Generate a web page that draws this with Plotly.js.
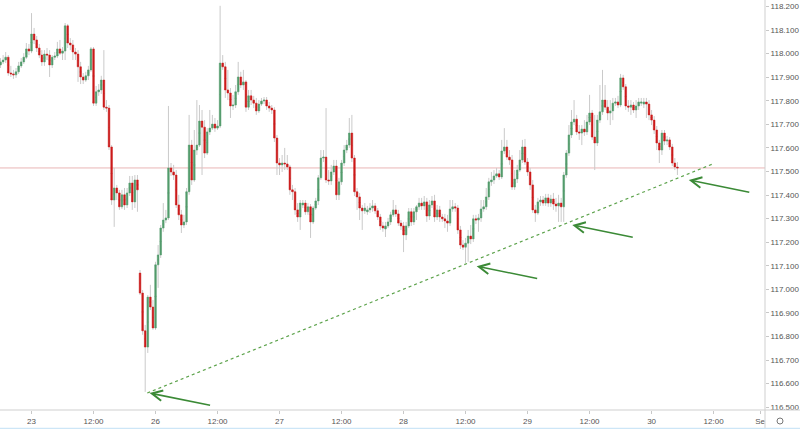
<!DOCTYPE html>
<html><head><meta charset="utf-8">
<script src="https://cdn.plot.ly/plotly-3.0.1.min.js"></script>
<style>html,body{margin:0;padding:0;background:#fff;} #chart{width:800px;height:429px;}</style>
</head><body><div id="chart"></div>
<script>
// 30-minute bars, 22 Aug 18:00 -> 30 Aug 05:00 (weekend gap removed)
const open = [
117.952,117.965,117.973,117.985,117.918,117.914,117.910,117.923,117.948,117.965,
117.985,118.020,118.011,118.083,118.058,118.024,117.994,117.965,117.998,117.994,
117.952,117.985,117.990,118.020,118.002,118.011,118.118,118.045,118.037,118.007,
117.998,117.944,117.901,117.888,117.906,117.931,118.020,117.790,117.838,117.846,
117.888,117.773,117.769,117.604,117.379,117.430,117.409,117.350,117.401,117.358,
117.409,117.451,117.371,117.464,117.069,116.984,116.824,116.755,116.967,116.925,
116.836,117.104,117.146,117.260,117.294,117.303,117.515,117.498,117.485,117.358,
117.316,117.273,117.286,117.414,117.612,117.464,117.591,117.612,117.714,117.688,
117.578,117.668,117.684,117.701,117.684,117.693,117.960,117.944,117.846,117.833,
117.778,117.782,117.838,117.901,117.867,117.880,117.773,117.821,117.803,117.790,
117.757,117.786,117.799,117.803,117.778,117.769,117.761,117.642,117.536,117.528,
117.536,117.532,117.519,117.422,117.414,117.337,117.307,117.358,117.366,117.329,
117.350,117.286,117.345,117.375,117.473,117.557,117.561,117.464,117.460,117.498,
117.523,117.401,117.456,117.536,117.591,117.612,117.663,117.557,117.414,117.392,
117.345,117.333,117.329,117.337,117.345,117.354,117.333,117.307,117.269,117.256,
117.269,117.286,117.316,117.337,117.320,117.281,117.269,117.231,117.269,117.329,
117.286,117.329,117.350,117.366,117.354,117.371,117.311,117.358,117.375,117.307,
117.337,117.307,117.299,117.290,117.281,117.341,117.350,117.345,117.252,117.188,
117.179,117.196,117.226,117.214,117.299,117.294,117.303,117.341,117.350,117.392,
117.456,117.464,117.481,117.490,117.477,117.587,117.604,117.561,117.549,117.434,
117.468,117.506,117.549,117.604,117.540,117.498,117.443,117.337,117.324,117.371,
117.379,117.366,117.388,117.366,117.383,117.362,117.354,117.366,117.350,117.485,
117.578,117.655,117.710,117.722,117.668,117.663,117.680,117.668,117.710,117.748,
117.646,117.621,117.718,117.753,117.803,117.773,117.748,117.757,117.790,117.795,
117.782,117.897,117.859,117.778,117.773,117.782,117.761,117.778,117.790,117.786,
117.795,117.786,117.740,117.718,117.676,117.621,117.591,117.663,117.629,117.634,
117.604,117.536,117.519];
const high = [
117.981,117.994,118.007,117.994,117.948,117.931,117.939,117.965,117.981,118.002,
118.045,118.041,118.172,118.109,118.075,118.041,118.015,118.015,118.024,118.015,
117.994,118.007,118.050,118.058,118.028,118.130,118.126,118.066,118.058,118.024,
118.015,117.965,117.918,117.923,117.948,118.028,118.028,117.863,117.871,117.906,
118.015,117.803,117.782,117.612,117.515,117.443,117.422,117.422,117.430,117.430,
117.481,117.481,117.485,117.485,117.082,116.997,116.849,116.976,117.019,116.955,
117.117,117.188,117.273,117.366,117.337,117.778,117.536,117.528,117.506,117.401,
117.337,117.316,117.430,117.740,117.634,117.676,117.803,117.782,117.761,117.718,
117.684,117.761,117.740,117.727,117.718,118.203,117.994,117.965,117.931,117.854,
117.825,117.867,117.965,117.923,117.931,117.888,117.846,117.846,117.821,117.812,
117.803,117.812,117.816,117.816,117.795,117.782,117.773,117.655,117.557,117.570,
117.600,117.570,117.528,117.443,117.430,117.366,117.379,117.379,117.379,117.366,
117.362,117.354,117.388,117.485,117.591,117.591,117.769,117.506,117.528,117.549,
117.549,117.473,117.549,117.612,117.634,117.727,117.740,117.570,117.430,117.409,
117.358,117.366,117.354,117.366,117.379,117.366,117.345,117.320,117.286,117.286,
117.303,117.329,117.379,117.358,117.337,117.294,117.286,117.286,117.345,117.345,
117.345,117.358,117.388,117.388,117.396,117.388,117.379,117.396,117.401,117.358,
117.354,117.320,117.320,117.316,117.379,117.379,117.366,117.358,117.269,117.209,
117.218,117.252,117.273,117.316,117.316,117.320,117.379,117.379,117.430,117.473,
117.498,117.506,117.515,117.506,117.634,117.684,117.634,117.591,117.570,117.506,
117.528,117.591,117.634,117.638,117.557,117.515,117.464,117.358,117.388,117.396,
117.396,117.405,117.405,117.401,117.409,117.388,117.401,117.388,117.498,117.591,
117.697,117.761,117.803,117.740,117.697,117.697,117.718,117.740,117.825,117.761,
117.740,117.740,117.867,117.931,117.867,117.803,117.803,117.812,117.812,117.821,
117.914,117.910,117.871,117.803,117.803,117.795,117.803,117.812,117.812,117.812,
117.812,117.803,117.761,117.735,117.693,117.634,117.676,117.676,117.651,117.646,
117.617,117.557,117.540];
const low = [
117.939,117.956,117.960,117.906,117.901,117.893,117.897,117.914,117.939,117.956,
117.977,117.994,118.002,118.041,118.007,117.981,117.948,117.948,117.973,117.901,
117.939,117.973,117.981,117.994,117.973,117.973,118.024,118.015,117.973,117.973,
117.880,117.871,117.871,117.880,117.888,117.923,117.778,117.778,117.821,117.829,
117.761,117.753,117.591,117.358,117.265,117.379,117.337,117.341,117.337,117.345,
117.396,117.337,117.345,117.329,116.976,116.807,116.565,116.730,116.912,116.828,
116.828,117.006,117.133,117.244,117.281,117.294,117.481,117.464,117.345,117.294,
117.239,117.260,117.273,117.401,117.443,117.456,117.570,117.604,117.485,117.557,
117.570,117.655,117.676,117.668,117.676,117.684,117.931,117.812,117.803,117.727,
117.761,117.769,117.825,117.854,117.846,117.753,117.761,117.782,117.769,117.740,
117.748,117.778,117.786,117.761,117.753,117.744,117.625,117.485,117.485,117.498,
117.506,117.506,117.401,117.379,117.316,117.286,117.252,117.345,117.316,117.316,
117.218,117.277,117.337,117.358,117.464,117.540,117.451,117.443,117.443,117.485,
117.379,117.379,117.443,117.523,117.578,117.600,117.540,117.396,117.337,117.294,
117.252,117.320,117.316,117.324,117.329,117.320,117.294,117.252,117.244,117.222,
117.260,117.273,117.307,117.307,117.269,117.252,117.158,117.209,117.260,117.269,
117.273,117.294,117.337,117.337,117.337,117.286,117.294,117.345,117.286,117.294,
117.286,117.286,117.260,117.244,117.269,117.329,117.329,117.235,117.171,117.167,
117.112,117.117,117.192,117.201,117.277,117.244,117.286,117.329,117.337,117.379,
117.439,117.447,117.473,117.464,117.468,117.574,117.549,117.528,117.422,117.422,
117.451,117.498,117.536,117.528,117.481,117.422,117.324,117.286,117.316,117.354,
117.354,117.354,117.350,117.350,117.337,117.329,117.286,117.286,117.286,117.473,
117.566,117.642,117.697,117.655,117.634,117.612,117.651,117.655,117.697,117.634,
117.506,117.608,117.706,117.740,117.761,117.718,117.697,117.718,117.778,117.769,
117.773,117.846,117.761,117.753,117.740,117.748,117.727,117.761,117.778,117.769,
117.727,117.718,117.697,117.659,117.591,117.536,117.570,117.612,117.612,117.591,
117.523,117.506,117.485];
const close = [
117.965,117.973,117.985,117.918,117.914,117.910,117.923,117.948,117.965,117.985,
118.020,118.011,118.083,118.058,118.024,117.994,117.965,117.998,117.994,117.952,
117.985,117.990,118.020,118.002,118.011,118.118,118.045,118.037,118.007,117.998,
117.944,117.901,117.888,117.906,117.931,118.020,117.790,117.838,117.846,117.888,
117.773,117.769,117.604,117.379,117.430,117.409,117.350,117.401,117.358,117.409,
117.451,117.371,117.464,117.422,116.984,116.824,116.755,116.967,116.925,116.836,
117.104,117.146,117.260,117.294,117.303,117.515,117.498,117.485,117.358,117.316,
117.273,117.286,117.414,117.612,117.464,117.591,117.612,117.714,117.688,117.578,
117.668,117.684,117.701,117.684,117.693,117.960,117.944,117.846,117.833,117.778,
117.782,117.838,117.901,117.867,117.880,117.773,117.821,117.803,117.790,117.757,
117.786,117.799,117.803,117.778,117.769,117.761,117.642,117.536,117.528,117.536,
117.532,117.519,117.422,117.414,117.337,117.307,117.366,117.366,117.329,117.350,
117.286,117.345,117.375,117.473,117.557,117.561,117.464,117.460,117.498,117.523,
117.401,117.456,117.536,117.591,117.612,117.663,117.557,117.414,117.392,117.345,
117.333,117.345,117.337,117.345,117.354,117.333,117.307,117.269,117.260,117.269,
117.286,117.316,117.337,117.320,117.281,117.269,117.231,117.269,117.329,117.286,
117.329,117.350,117.366,117.354,117.371,117.311,117.358,117.375,117.307,117.337,
117.307,117.299,117.290,117.281,117.341,117.350,117.345,117.252,117.188,117.179,
117.196,117.226,117.214,117.299,117.294,117.303,117.341,117.350,117.392,117.456,
117.464,117.481,117.490,117.477,117.587,117.604,117.561,117.549,117.434,117.468,
117.506,117.549,117.604,117.540,117.498,117.443,117.337,117.324,117.371,117.379,
117.366,117.388,117.366,117.383,117.362,117.354,117.366,117.350,117.485,117.578,
117.655,117.710,117.722,117.668,117.663,117.680,117.668,117.710,117.748,117.646,
117.621,117.718,117.753,117.803,117.773,117.748,117.757,117.790,117.795,117.782,
117.897,117.859,117.778,117.773,117.782,117.761,117.778,117.795,117.795,117.795,
117.786,117.740,117.718,117.676,117.621,117.591,117.663,117.629,117.634,117.604,
117.536,117.519,117.515];

// x-axis labels (bar index of each label)
const tickIdx  = [12, 36, 60, 84, 108, 132, 156, 180, 204, 228, 252, 276, 294];
const tickText = ['23','12:00','26','12:00','27','12:00','28','12:00','29','12:00','30','12:00','Se'];

// drawings: trend line (bar index, price) and arrow tips
const trendX = [56.8, 275.5];
const trendY = [116.560, 117.531];
const arrowX = [57.7, 184.3, 221.3, 266.4];
const arrowY = [116.560, 117.098, 117.273, 117.464];

const GREEN = '#539c6c', RED = '#cc1b1b', WICK = '#cacaca';
const idx = open.map((_, i) => i);
const mid = open.map((o, i) => (o + close[i]) / 2);
const bodyHi = open.map((o, i) => Math.max(o, close[i]));
const bodyLo = open.map((o, i) => Math.min(o, close[i]));
const lastPrice = close[close.length - 1];

const wicks = {
  type: 'candlestick', x: idx, open: mid, close: mid, high: high, low: low,
  increasing: {line: {color: WICK, width: 1}, fillcolor: WICK},
  decreasing: {line: {color: WICK, width: 1}, fillcolor: WICK},
  whiskerwidth: 0, hoverinfo: 'skip', showlegend: false
};
const bodies = {
  type: 'candlestick', x: idx, open: open, close: close, high: bodyHi, low: bodyLo,
  increasing: {line: {color: GREEN, width: 0.5}, fillcolor: GREEN},
  decreasing: {line: {color: RED, width: 0.5}, fillcolor: RED},
  whiskerwidth: 0, showlegend: false
};

const FONT = {family: 'Liberation Sans, Arial, sans-serif', size: 8, color: '#555555'};
const shapes = [
  {type: 'line', xref: 'paper', yref: 'y', x0: 0, x1: 1, y0: lastPrice, y1: lastPrice,
   line: {color: 'rgba(225,150,150,0.7)', width: 1}, layer: 'below'},
  {type: 'line', xref: 'x', yref: 'y', x0: trendX[0], x1: trendX[1], y0: trendY[0], y1: trendY[1],
   line: {color: '#5da34c', width: 1.2, dash: 'dot'}},
  {type: 'line', xref: 'paper', yref: 'paper', x0: 0, x1: 800/765, y0: 0, y1: 0,
   line: {color: '#cfcfcf', width: 1}},
  {type: 'line', xref: 'paper', yref: 'paper', x0: 1, x1: 1, y0: -19/410, y1: 1,
   line: {color: '#cfcfcf', width: 1}},
  {type: 'circle', xref: 'paper', yref: 'paper', x0: 777/765, x1: 783/765, y0: -14/410, y1: -8/410,
   line: {color: '#777777', width: 1}},
  {type: 'line', xref: 'paper', yref: 'paper', x0: 0, x1: 800/765, y0: -18.5/410, y1: -18.5/410,
   line: {color: '#cde6f7', width: 1.5}}
];
const annotations = arrowX.map((x, i) => ({
  x: x, y: arrowY[i], xref: 'x', yref: 'y', ax: 62, ay: 12.5, text: '',
  showarrow: true, arrowhead: 5, arrowsize: 1.3, arrowwidth: 1.6, arrowcolor: '#3b8a36', standoff: 0
}));

const layout = {
  width: 800, height: 429, margin: {l: 0, r: 35, t: 0, b: 19},
  paper_bgcolor: '#ffffff', plot_bgcolor: '#ffffff', showlegend: false,
  boxgap: 0.35, boxgroupgap: 0,
  xaxis: {range: [-0.2, 295.9], rangeslider: {visible: false}, tickmode: 'array',
          tickvals: tickIdx, ticktext: tickText, ticks: 'outside', ticklen: 3, tickcolor: '#c8c8c8',
          showgrid: false, zeroline: false, showline: false, tickfont: FONT, fixedrange: true},
  yaxis: {side: 'right', range: [116.488, 118.2276], tick0: 116.5, dtick: 0.1, tickformat: '.3f',
          ticks: 'outside', ticklen: 3, tickcolor: '#c8c8c8', showgrid: false, zeroline: false,
          showline: false, tickfont: FONT, fixedrange: true},
  shapes: shapes, annotations: annotations
};
Plotly.newPlot('chart', [wicks, bodies], layout, {displayModeBar: false, staticPlot: true});
</script></body></html>
